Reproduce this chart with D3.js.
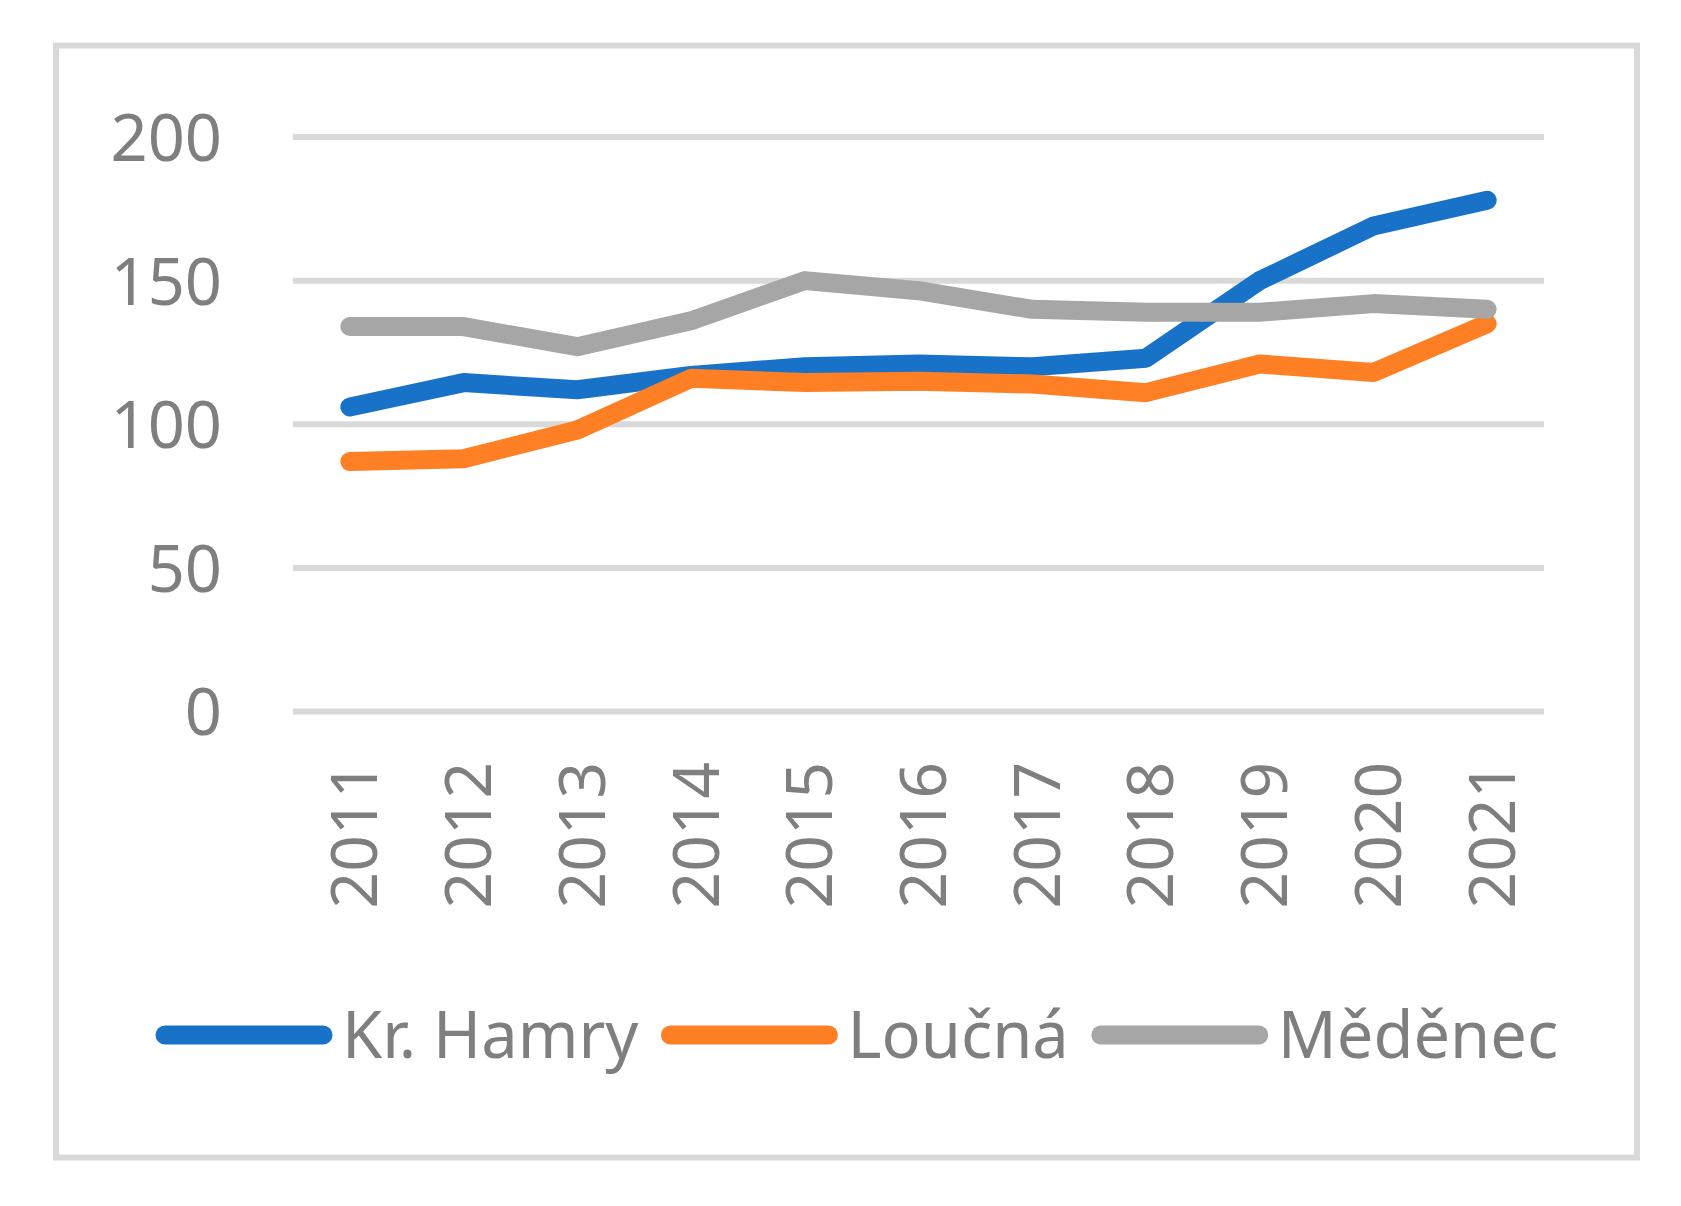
<!DOCTYPE html>
<html>
<head>
<meta charset="utf-8">
<script src="https://cdn.jsdelivr.net/npm/d3@7"></script>
<style>
  html, body { margin: 0; padding: 0; background: #ffffff; }
  svg { display: block; }
</style>
</head>
<body>
<svg id="chart" width="1681" height="1206"></svg>
<script>
const years = ["2011","2012","2013","2014","2015","2016","2017","2018","2019","2020","2021"];
const seriesNames = ["Kr. Hamry", "Loučná", "Měděnec"];
const krHamry = [106, 114.5, 112, 117, 120, 121, 120, 123, 150, 169, 178];
const loucna  = [87, 88, 98, 116, 114.5, 115, 114, 111, 121, 118, 135];
const medenec = [134, 134, 127, 136, 150, 146.5, 140, 139, 139, 142, 140];
const yTicks = [0, 50, 100, 150, 200];
const colors = ["#1873c8", "#fe7f24", "#a6a6a6"];

const seriesValues = [krHamry, loucna, medenec];

const W = 1681, H = 1206;
const font = "'Noto Sans', 'Open Sans', sans-serif";
const textColor = "#7f7f7f";
const gridColor = "#d9d9d9";

const svg = d3.select("#chart");

// outer frame
svg.append("rect")
  .attr("x", 56).attr("y", 45.5)
  .attr("width", 1581).attr("height", 1112)
  .attr("fill", "#ffffff")
  .attr("stroke", gridColor)
  .attr("stroke-width", 6);

const x = d3.scalePoint().domain(years).range([293, 1544]).padding(0.5);
const y = d3.scaleLinear().domain([0, 200]).range([711.5, 137]);

// gridlines
svg.append("g").selectAll("line").data(yTicks).join("line")
  .attr("x1", 293).attr("x2", 1544)
  .attr("y1", d => y(d)).attr("y2", d => y(d))
  .attr("stroke", gridColor).attr("stroke-width", 6);

// y axis labels
const yAxis = d3.axisLeft(y).tickValues(yTicks).tickSize(0).tickPadding(0);
const gy = svg.append("g").attr("transform", "translate(222,0)").call(yAxis);
gy.select(".domain").remove();
gy.selectAll("text")
  .attr("font-family", font).attr("font-size", 65)
  .attr("fill", textColor)
  .attr("dy", "0.36em");

// x axis labels (rotated)
const xAxis = d3.axisBottom(x).tickSize(0).tickPadding(0);
const gx = svg.append("g").attr("transform", "translate(0,762)").call(xAxis);
gx.select(".domain").remove();
gx.selectAll("text")
  .attr("font-family", font).attr("font-size", 64)
  .attr("fill", textColor)
  .attr("text-anchor", "end")
  .attr("dy", null).attr("y", null)
  .attr("transform", "translate(27,0) rotate(-90)");

// lines
const line = d3.line().x((d, i) => x(years[i])).y(d => y(d));
svg.append("g").selectAll("path").data(seriesValues).join("path")
  .attr("d", d => line(d))
  .attr("fill", "none")
  .attr("stroke", (d, i) => colors[i])
  .attr("stroke-width", 19)
  .attr("stroke-linecap", "round")
  .attr("stroke-linejoin", "round");

// legend
const legend = svg.append("g");
let lx = 155;
const ly = 1035;
seriesNames.forEach((name, i) => {
  legend.append("line")
    .attr("x1", lx + 10).attr("x2", lx + 168)
    .attr("y1", ly).attr("y2", ly)
    .attr("stroke", colors[i]).attr("stroke-width", 19)
    .attr("stroke-linecap", "round");
  const t = legend.append("text")
    .attr("x", lx + 187).attr("y", ly + 23)
    .attr("font-family", font).attr("font-size", 65)
    .attr("fill", textColor)
    .text(name);
  const w = t.node().getComputedTextLength();
  lx = lx + 187 + w + 22;
});
</script>
</body>
</html>
